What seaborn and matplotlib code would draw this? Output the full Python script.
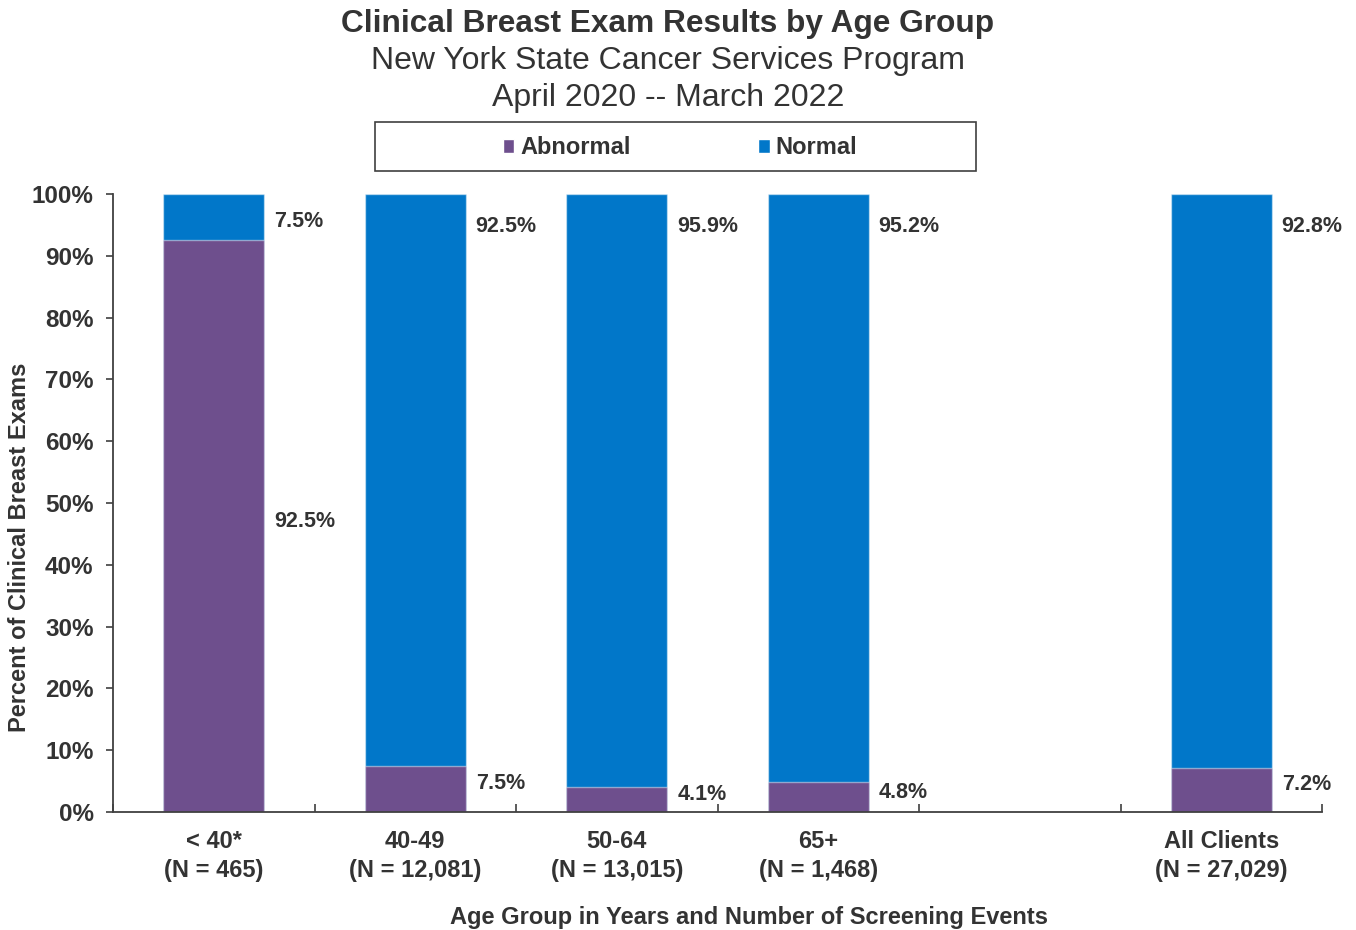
import numpy as np
import pandas as pd
import matplotlib
matplotlib.use("Agg")
import matplotlib.pyplot as plt
from matplotlib.patches import Patch, Rectangle
import seaborn as sns

# Clinical breast exam results, percent of screening events per age group
age_groups = ["< 40*", "40-49", "50-64", "65+", "All Clients"]
screening_events = [465, 12081, 13015, 1468, 27029]
abnormal_pct = [92.5, 7.5, 4.1, 4.8, 7.2]
normal_pct = [7.5, 92.5, 95.9, 95.2, 92.8]
series_names = ["Abnormal", "Normal"]

sns.set_style("ticks")
plt.rcParams["font.family"] = ["Liberation Sans", "DejaVu Sans"]

TEXT = "#333333"
PURPLE = "#6E4F8D"
BLUE = "#0177C9"

labels = [f"{g}\n(N = {n:,})" for g, n in zip(age_groups, screening_events)]
# an empty slot separates the age groups from the overall total
order = labels[:4] + [""] + labels[4:]

df = pd.DataFrame({"group": labels, "abnormal": abnormal_pct, "normal": normal_pct})
df["total"] = df["abnormal"] + df["normal"]

fig = plt.figure(figsize=(13.56, 9.3), dpi=100)
ax = fig.add_axes([113 / 1356, 1 - 812 / 930, (1322 - 113) / 1356, 618 / 930])

bar_kw = dict(order=order, width=0.5, saturation=1, errorbar=None,
              linewidth=1.0, edgecolor=(1, 1, 1, 0.45), ax=ax)
# normal stacked on top of abnormal: draw the full column, then the abnormal part
sns.barplot(data=df, x="group", y="total", color=BLUE, **bar_kw)
sns.barplot(data=df, x="group", y="abnormal", color=PURPLE, **bar_kw)

label_kw = dict(fontsize=15.5, fontweight="bold", color=TEXT, ha="left", va="center")
for g, a, n in zip(labels, abnormal_pct, normal_pct):
    xpos = order.index(g) + 0.25 + 0.05
    ax.text(xpos, a / 2 + 0.8, f"{a:.1f}%", **label_kw)
    ax.text(xpos, 100 - min(n / 2 + 0.7, 5.3), f"{n:.1f}%", **label_kw)

ax.set_xlim(-0.5, len(order) - 0.5)
ax.set_ylim(0, 100)
ax.set_yticks(np.arange(0, 101, 10))
ax.set_yticklabels([f"{v}%" for v in range(0, 101, 10)])
ax.set_xticks(range(len(order)))
ax.set_xticklabels(order)
ax.set_xticks(np.arange(-0.5, len(order), 1.0), minor=True)

ax.tick_params(axis="x", which="major", length=0, pad=13,
               labelsize=17, labelcolor=TEXT)
ax.tick_params(axis="x", which="minor", direction="in", length=6,
               width=1.2, color="#404040")
ax.tick_params(axis="y", direction="out", length=5, width=1.2, pad=9,
               labelsize=17.5, labelcolor=TEXT, color="#404040")
for lab in ax.get_xticklabels():
    lab.set_fontweight("bold")
    lab.set_linespacing(1.35)
for lab in ax.get_yticklabels():
    lab.set_fontweight("bold")

sns.despine(ax=ax)
for side in ("left", "bottom"):
    ax.spines[side].set_color("#404040")
    ax.spines[side].set_linewidth(1.3)

ax.set_ylabel("Percent of Clinical Breast Exams", fontsize=17,
              fontweight="bold", color=TEXT)
ax.yaxis.set_label_coords(-0.077, 0.428)
ax.yaxis.label.set_va("center")
ax.set_xlabel("Age Group in Years and Number of Screening Events", fontsize=17,
              fontweight="bold", color=TEXT)
ax.xaxis.set_label_coords(0.526, -0.171)
ax.xaxis.label.set_va("center")

# titles
cx = 668 / 1356
fig.text(cx, 1 - 24 / 930, "Clinical Breast Exam Results by Age Group",
         fontsize=22.8, fontweight="bold", color=TEXT, ha="center", va="center")
fig.text(cx, 1 - 61 / 930, "New York State Cancer Services Program",
         fontsize=23, color=TEXT, ha="center", va="center")
fig.text(cx, 1 - 98 / 930, "April 2020 -- March 2022",
         fontsize=23, color=TEXT, ha="center", va="center")

# legend with a separate frame
fig.patches.append(Rectangle((375 / 1356, 1 - 171 / 930), 601 / 1356, 49 / 930,
                             transform=fig.transFigure, facecolor="white",
                             edgecolor="#404040", linewidth=1.2, zorder=0))
handles = [Patch(facecolor=PURPLE, label=series_names[0]),
           Patch(facecolor=BLUE, label=series_names[1])]
leg = fig.legend(handles=handles, loc="center", ncol=2, frameon=False,
                 bbox_to_anchor=(680 / 1356, 1 - 148 / 930),
                 prop={"size": 17, "weight": "bold"},
                 handlelength=0.5, handleheight=0.5, handletextpad=0.25,
                 columnspacing=5.4)
for t in leg.get_texts():
    t.set_color(TEXT)

fig.savefig("out.png", dpi=100)
